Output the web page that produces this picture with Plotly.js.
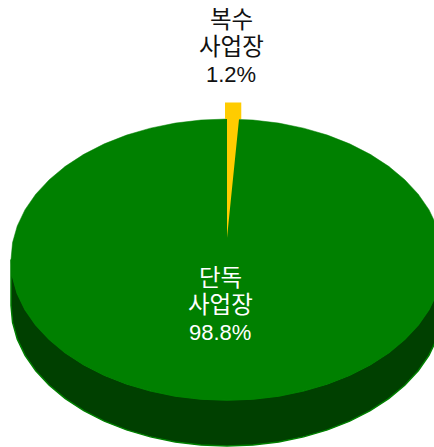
<!DOCTYPE html>
<html><head><meta charset="utf-8">
<script src="https://cdn.plot.ly/plotly-3.0.1.min.js"></script>
<style>html,body{margin:0;padding:0;background:#fff;overflow:hidden}</style>
</head><body><div id="chart" style="width:434px;height:447px"></div>
<script>
const categoryLines = [["단독", "사업장"], ["복수", "사업장"]];
const shares = [98.8, 1.2];
const sliceColors = ["#008000", "#FFCC00"];
const sideColor = "#004000";
const labelColors = ["#FFFFFF", "#111111"];

const cx = 227, cy = 259.5, rx = 216, ry = 140.5, depth = 46, lift = 16.5, segs = 52;
const rim = (t, dy) => [cx + rx * Math.sin(t), cy + dy - ry * Math.cos(t)];

const topX = [], topY = [], sideX = [], sideY = [];
for (let i = 0; i <= segs; i++) {
  const [x, y] = rim(2 * Math.PI * i / segs, 0);
  topX.push(x); topY.push(y);
}
for (let i = 0; i <= segs / 2; i++) {
  const t = Math.PI / 2 + Math.PI * i / (segs / 2);
  const [x, y] = rim(t, 0); sideX.push(x); sideY.push(y);
}
for (let i = segs / 2; i >= 0; i--) {
  const t = Math.PI / 2 + Math.PI * i / (segs / 2);
  const [x, y] = rim(t, depth); sideX.push(x); sideY.push(y);
}

const w = rx * Math.sin(2 * Math.PI * shares[1] / 100);
const apexY = cy - 21.5, rimY = cy - ry;
const wedgeX = [cx, cx, cx - 2, cx - 2, cx + w - 2, cx + w - 2, cx + w * 0.74];
const wedgeY = [apexY, rimY, rimY, rimY - lift, rimY - lift, rimY, rimY];

const poly = (x, y, fill, line, lw) => ({
  type: "scatter", mode: "lines", x, y, fill: "toself", fillcolor: fill,
  line: {color: line, width: lw, simplify: false}, hoverinfo: "skip", showlegend: false
});

const traces = [
  poly(sideX, sideY, sideColor, sliceColors[0], 1.5),
  poly(topX, topY, sliceColors[0], sliceColors[0], 0.5),
  poly(wedgeX, wedgeY, sliceColors[1], sliceColors[1], 0)
];

const labelAt = [[220, 277.5], [231, 20]];
const pitch = 27.3;
const annotations = [];
categoryLines.forEach((lines, i) => {
  const rows = lines.concat(shares[i].toFixed(1) + "%");
  rows.forEach((text, r) => annotations.push({
    x: labelAt[i][0], y: labelAt[i][1] + r * pitch, xref: "x", yref: "y", showarrow: false,
    xanchor: "center", yanchor: "middle", align: "center", text,
    font: {family: '"Liberation Sans", "Noto Sans CJK KR", sans-serif',
           size: r < 2 ? 23.5 : 22, color: labelColors[i]}
  }));
});

Plotly.newPlot("chart", traces, {
  width: 434, height: 447, margin: {l: 0, r: 0, t: 0, b: 0},
  paper_bgcolor: "#fff", plot_bgcolor: "#fff", showlegend: false,
  xaxis: {range: [0, 434], visible: false, fixedrange: true},
  yaxis: {range: [447, 0], visible: false, fixedrange: true},
  annotations
}, {displayModeBar: false, staticPlot: true});
</script></body></html>
